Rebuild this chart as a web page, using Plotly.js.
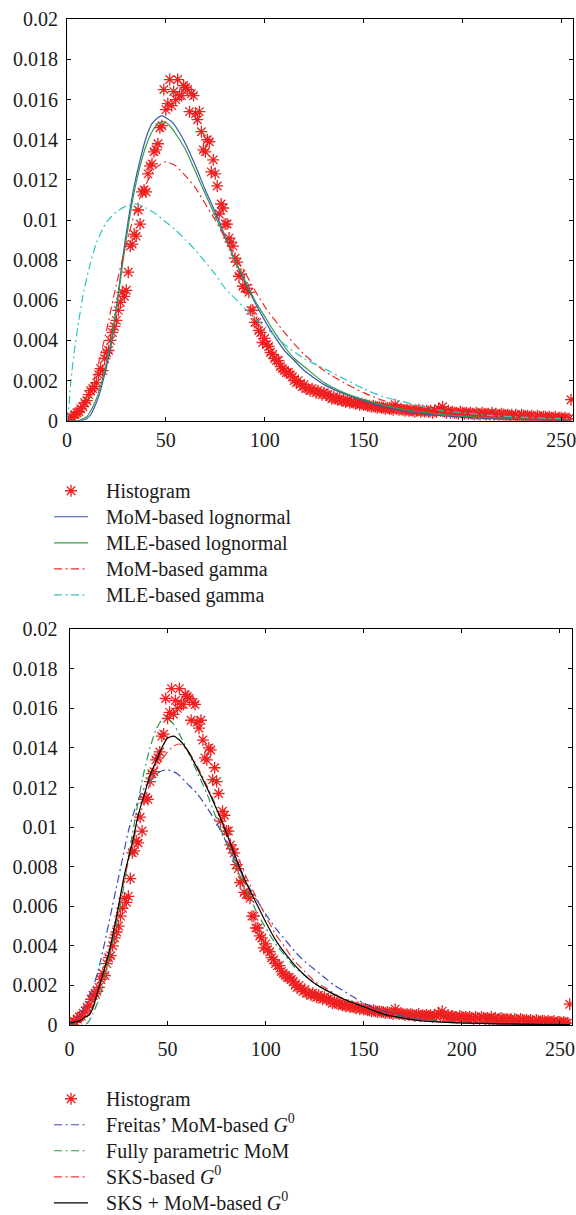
<!DOCTYPE html>
<html>
<head>
<meta charset="utf-8">
<script src="https://cdn.plot.ly/plotly-3.0.1.min.js"></script>
<style>
  html, body { margin: 0; padding: 0; background: #ffffff; }
  #chart { width: 576px; height: 1215px; }
</style>
</head>
<body>
<div id="chart"></div>
<script>
// Normalised histogram of the image intensities (gray levels 0..255)
const histDensity = [
  0.00010,0.00005,0.00020,0.00015,0.00030,0.00040,0.00045,0.00060,0.00070,0.00090,
  0.00100,0.00130,0.00150,0.00160,0.00170,0.00190,0.00230,0.00260,0.00250,0.00310,
  0.00340,0.00350,0.00400,0.00440,0.00470,0.00500,0.00550,0.00590,0.00640,0.00620,
  0.00650,0.00740,0.00870,0.00880,0.00930,0.00920,0.01050,0.00980,0.01140,0.01150,
  0.01140,0.01230,0.01270,0.01280,0.01340,0.01350,0.01380,0.01460,0.01470,0.01650,
  0.01550,0.01580,0.01700,0.01570,0.01640,0.01600,0.01700,0.01620,0.01620,0.01670,
  0.01660,0.01650,0.01540,0.01630,0.01620,0.01530,0.01500,0.01540,0.01440,0.01350,
  0.01340,0.01400,0.01390,0.01240,0.01300,0.01230,0.01170,0.01030,0.01080,0.01060,
  0.00980,0.00980,0.00910,0.00890,0.00870,0.00810,0.00790,0.00720,0.00730,0.00670,
  0.00660,0.00660,0.00640,0.00550,0.00550,0.00490,0.00490,0.00450,0.00440,0.00390,
  0.00410,0.00380,0.00370,0.00340,0.00330,0.00310,0.00300,0.00300,0.00270,0.00260,
  0.00250,0.00240,0.00240,0.00230,0.00220,0.00200,0.00190,0.00200,0.00180,0.00170,
  0.00180,0.00160,0.00160,0.00150,0.00160,0.00150,0.00140,0.00150,0.00140,0.00130,
  0.00140,0.00130,0.00130,0.00120,0.00110,0.00120,0.00110,0.00105,0.00110,0.00100,
  0.00100,0.00095,0.00100,0.00090,0.00095,0.00090,0.00085,0.00090,0.00080,0.00085,
  0.00080,0.00080,0.00075,0.00075,0.00070,0.00075,0.00070,0.00065,0.00070,0.00065,
  0.00065,0.00060,0.00065,0.00060,0.00060,0.00055,0.00080,0.00060,0.00055,0.00060,
  0.00055,0.00050,0.00055,0.00050,0.00055,0.00050,0.00045,0.00050,0.00055,0.00045,
  0.00050,0.00045,0.00050,0.00045,0.00050,0.00040,0.00050,0.00045,0.00060,0.00050,
  0.00070,0.00045,0.00040,0.00050,0.00040,0.00045,0.00040,0.00040,0.00035,0.00045,
  0.00040,0.00035,0.00040,0.00035,0.00040,0.00035,0.00030,0.00040,0.00035,0.00030,
  0.00040,0.00035,0.00030,0.00035,0.00030,0.00040,0.00030,0.00035,0.00025,0.00030,
  0.00035,0.00030,0.00025,0.00030,0.00025,0.00030,0.00020,0.00030,0.00025,0.00020,
  0.00030,0.00025,0.00020,0.00025,0.00020,0.00025,0.00020,0.00015,0.00025,0.00020,
  0.00015,0.00020,0.00020,0.00015,0.00020,0.00015,0.00015,0.00020,0.00010,0.00015,
  0.00015,0.00010,0.00015,0.00010,0.00010,0.00105
];
const grayLevels = histDensity.map((_, i) => i);

// Fitted densities, upper panel
const momLognX = [0,5,8,10,12,14,16,18,20,22,25,28,31,34,37,40,43,46,48,50,53,56,60,65,70,75,80,85,90,95,100,105,110,115,120,130,140,150,160,170,180,190,200,215,230,255];
const momLognY = [0,0,0.00003,0.0001,0.0003,0.0007,0.0012,0.0019,0.0027,0.0036,0.0056,0.0080,0.0100,0.0117,0.0130,0.0141,0.0148,0.0151,0.0152,0.0151,0.0149,0.0145,0.0138,0.0127,0.0115,0.0104,0.0092,0.0080,0.0069,0.0059,0.0050,0.0042,0.0035,0.0030,0.0025,0.0018,0.00135,0.0010,0.0007,0.0005,0.00035,0.00025,0.00018,0.0001,0.00006,0.00003];

const mleLognX = [0,6,8,10,12,14,16,18,20,22,25,28,31,34,37,40,43,46,49,52,55,60,65,70,75,80,85,90,95,100,105,110,115,120,130,140,150,160,170,180,190,200,215,230,255];
const mleLognY = [0,0,0.0001,0.0002,0.0005,0.0009,0.0014,0.0021,0.0029,0.0038,0.0056,0.0077,0.0097,0.0114,0.0127,0.0137,0.0144,0.0148,0.0149,0.0147,0.0143,0.0135,0.0124,0.0113,0.0102,0.0091,0.0080,0.0070,0.0060,0.0052,0.0044,0.0037,0.0031,0.0027,0.0019,0.0014,0.00105,0.00078,0.00057,0.00042,0.00031,0.00023,0.00015,0.0001,0.00005];

const momGammaX = [0,5,10,15,20,25,30,35,40,45,50,55,60,65,70,75,80,85,90,95,100,110,120,130,140,150,160,170,180,190,200,220,240,255];
const momGammaY = [0,0.0002,0.0010,0.0025,0.0045,0.0068,0.0088,0.0106,0.0118,0.0126,0.0129,0.0127,0.0122,0.0116,0.0108,0.0100,0.0091,0.0082,0.0074,0.0065,0.0057,0.0044,0.0033,0.0025,0.0019,0.0014,0.0010,0.0007,0.0005,0.0004,0.0003,0.00015,0.00007,0.00004];

const mleGammaX = [0,1,2,4,6,8,10,12,15,20,25,30,35,40,45,50,55,60,65,70,75,80,85,90,95,100,110,120,130,140,150,160,170,180,190,200,215,230,245,255];
const mleGammaY = [0,0.0008,0.0020,0.0037,0.0050,0.0062,0.0071,0.0079,0.0089,0.0099,0.0104,0.0107,0.0108,0.0106,0.0103,0.0099,0.0095,0.0090,0.0085,0.0079,0.0073,0.0066,0.0061,0.0056,0.0051,0.0047,0.0038,0.0031,0.0026,0.0021,0.0016,0.0012,0.00095,0.0007,0.0005,0.0004,0.00026,0.00018,0.00012,0.0001];

// Fitted densities, lower panel
const freitasX = [0,3,6,9,12,15,18,21,24,27,30,33,36,39,42,46,50,55,60,65,70,75,80,85,90,95,100,105,110,115,120,125,130,135,140,145,150,160,170,180,190,200,220,255];
const freitasY = [0,0.0002,0.0006,0.0012,0.0019,0.0029,0.0042,0.0056,0.0070,0.0084,0.0098,0.0108,0.0116,0.0121,0.0125,0.0128,0.0129,0.0127,0.0122,0.0117,0.0110,0.0102,0.0092,0.0082,0.0072,0.0064,0.0056,0.0049,0.0043,0.0037,0.0032,0.0028,0.0024,0.0020,0.0017,0.0014,0.0011,0.00072,0.00045,0.00028,0.00018,0.00012,0.00006,0.00002];

const fullMomX = [0,8,10,12,15,18,20,23,26,29,32,35,38,41,44,47,50,53,56,60,65,70,75,80,85,90,95,100,105,110,115,120,125,130,140,150,160,170,180,190,200,220,255];
const fullMomY = [0,0,0.0002,0.0006,0.0013,0.0024,0.0033,0.0046,0.0061,0.0078,0.0096,0.0113,0.0128,0.0140,0.0149,0.0154,0.0155,0.0152,0.0147,0.0139,0.0128,0.0117,0.0104,0.0092,0.0080,0.0068,0.0058,0.0049,0.0041,0.0035,0.0029,0.0025,0.0021,0.0018,0.0013,0.00092,0.00058,0.00037,0.00024,0.00016,0.00011,0.00005,0.00002];

const sksX = [0,5,8,10,12,15,18,20,24,28,32,35,38,41,44,47,50,53,56,60,65,70,75,80,85,90,95,100,105,110,115,120,125,130,140,150,160,170,180,190,200,220,255];
const sksY = [0.0001,0.0002,0.0004,0.0006,0.0010,0.0019,0.0029,0.0036,0.0054,0.0074,0.0091,0.0103,0.0113,0.0122,0.0129,0.0134,0.0138,0.0141,0.0142,0.0139,0.0131,0.0121,0.0110,0.0098,0.0087,0.0075,0.0065,0.0055,0.0046,0.0039,0.0032,0.0027,0.0022,0.0019,0.0013,0.0009,0.00056,0.00036,0.00022,0.00015,0.0001,0.00006,0.00002];

const sksMomX = [0,5,8,10,12,15,18,20,24,28,32,35,38,41,44,47,50,53,56,60,65,70,75,80,85,90,95,100,105,110,115,120,125,130,140,150,160,170,180,190,200,220,240,255];
const sksMomY = [0.0001,0.0002,0.0004,0.0005,0.0009,0.0019,0.0029,0.0036,0.0055,0.0076,0.0092,0.0106,0.0116,0.0126,0.0133,0.0140,0.0145,0.0146,0.0144,0.0139,0.0130,0.0120,0.0109,0.0097,0.0084,0.0072,0.0062,0.0052,0.0043,0.0036,0.0030,0.0025,0.0021,0.0018,0.0013,0.00092,0.00055,0.00035,0.0002,0.00014,0.0001,0.00006,0.00003,0.00002];

const xTicks = [0, 50, 100, 150, 200, 250];
const yTicks = [0, 0.002, 0.004, 0.006, 0.008, 0.01, 0.012, 0.014, 0.016, 0.018, 0.02];

const SERIF = '"Liberation Serif", "DejaVu Serif", serif';
const DASHDOT = '8px,3.5px,2px,3.5px';

// legend labels: a small spacer, then the label at reading size
function label(txt) {
  return '<span style="font-size:26px">\u00a0\u00a0</span><span style="font-size:20px">' + txt + '</span>';
}

function curve(x, y, name, color, dash, xa, ya, leg) {
  return {
    type: 'scatter', mode: 'lines', x: x, y: y, name: label(name),
    xaxis: xa, yaxis: ya, legend: leg,
    line: { color: color, width: 1.2, dash: dash, shape: 'spline', smoothing: 0.6 }
  };
}

function histTrace(xa, ya, leg) {
  return {
    type: 'scatter', mode: 'markers', x: grayLevels, y: histDensity,
    name: label('Histogram'), xaxis: xa, yaxis: ya, legend: leg,
    marker: { symbol: 'asterisk-open', size: 10, color: '#ee2020',
              line: { color: '#ee2020', width: 1.3 } }
  };
}

const data = [
  histTrace('x', 'y', 'legend'),
  curve(momLognX, momLognY, 'MoM-based lognormal', '#3a56b0', 'solid', 'x', 'y', 'legend'),
  curve(mleLognX, mleLognY, 'MLE-based lognormal', '#34994a', 'solid', 'x', 'y', 'legend'),
  curve(momGammaX, momGammaY, 'MoM-based gamma', '#ee2a2a', DASHDOT, 'x', 'y', 'legend'),
  curve(mleGammaX, mleGammaY, 'MLE-based gamma', '#2ec4c4', DASHDOT, 'x', 'y', 'legend'),

  histTrace('x2', 'y2', 'legend2'),
  curve(freitasX, freitasY, 'Freitas’ MoM-based <i>G</i><sup>0</sup>', '#3a4db8', DASHDOT, 'x2', 'y2', 'legend2'),
  curve(fullMomX, fullMomY, 'Fully parametric MoM', '#2a9848', DASHDOT, 'x2', 'y2', 'legend2'),
  curve(sksX, sksY, 'SKS-based <i>G</i><sup>0</sup>', '#ee3a3a', DASHDOT, 'x2', 'y2', 'legend2'),
  curve(sksMomX, sksMomY, 'SKS + MoM-based <i>G</i><sup>0</sup>', '#000000', 'solid', 'x2', 'y2', 'legend2')
];

const axisStyle = {
  showline: true, linecolor: '#000', linewidth: 1, mirror: 'ticks',
  ticks: 'inside', ticklen: 4, tickcolor: '#000', tickwidth: 1,
  showgrid: false, zeroline: false, ticklabeloverflow: 'allow',
  tickfont: { family: SERIF, size: 20, color: '#1a1a1a' }
};

const legendStyle = {
  xanchor: 'left', yanchor: 'top',
  bgcolor: 'rgba(0,0,0,0)', borderwidth: 0, itemwidth: 34,
  font: { family: SERIF, size: 17.7, color: '#1a1a1a' }
};

const layout = {
  width: 576, height: 1215,
  margin: { l: 0, r: 0, t: 0, b: 0, autoexpand: false },
  paper_bgcolor: '#ffffff', plot_bgcolor: '#ffffff',
  showlegend: true,
  xaxis: Object.assign({}, axisStyle, { domain: [0.1163, 0.9948], range: [0, 256], tickvals: xTicks, anchor: 'y', ticklabelstandoff: 1 }),
  yaxis: Object.assign({}, axisStyle, { domain: [0.6537, 0.9841], range: [0, 0.02], tickvals: yTicks, anchor: 'x', ticklabelstandoff: 4 }),
  xaxis2: Object.assign({}, axisStyle, { domain: [0.1207, 0.9925], range: [0, 256], tickvals: xTicks, anchor: 'y2', ticklabelstandoff: 6 }),
  yaxis2: Object.assign({}, axisStyle, { domain: [0.1564, 0.4821], range: [0, 0.02], tickvals: yTicks, anchor: 'x2', ticklabelstandoff: 7 }),
  legend: Object.assign({}, legendStyle, { x: 0.0851, y: 0.6109 }),
  legend2: Object.assign({}, legendStyle, { x: 0.0851, y: 0.1105 })
};

Plotly.newPlot('chart', data, layout, { displayModeBar: false, staticPlot: true });
</script>
</body>
</html>
